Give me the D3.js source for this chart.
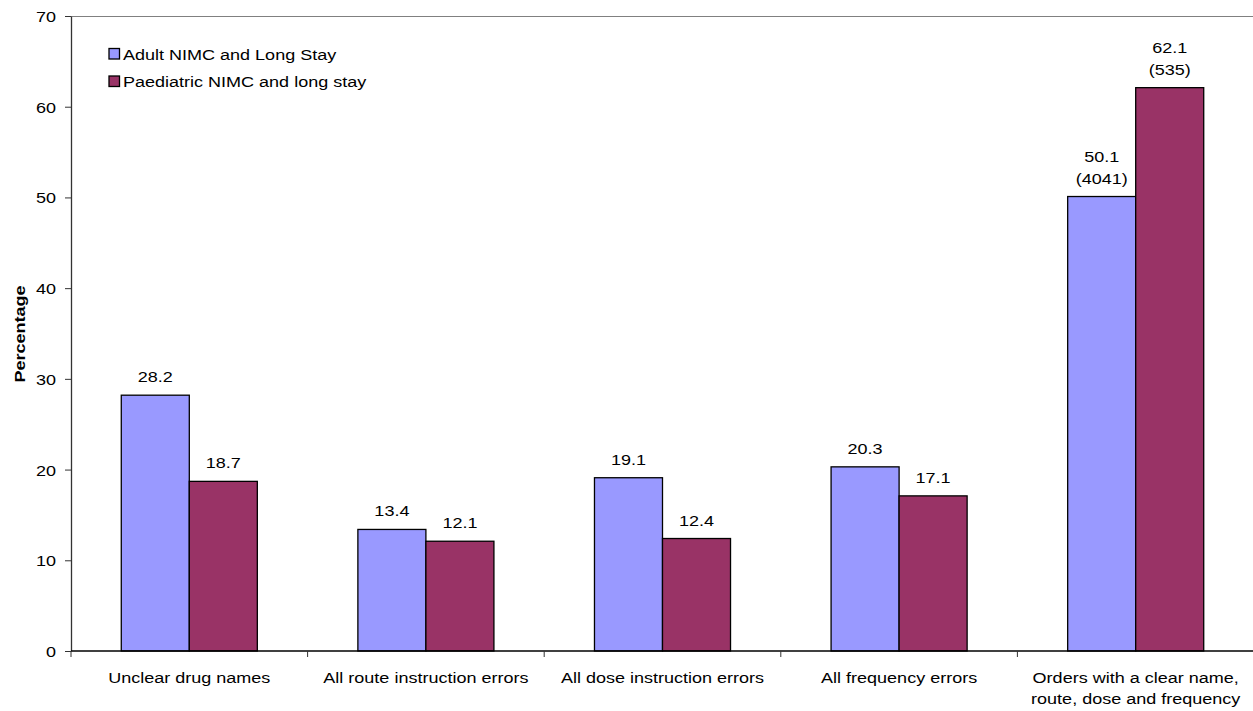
<!DOCTYPE html>
<html>
<head>
<meta charset="utf-8">
<script src="https://cdn.jsdelivr.net/npm/d3@7"></script>
<style>
  html, body { margin: 0; padding: 0; background: #fff; }
  svg { display: block; }
  text { font-family: "Liberation Sans", Arial, sans-serif; fill: #000; }
</style>
</head>
<body>
<svg id="chart" width="1253" height="711"></svg>
<script>
// ---- data ----
const categories = [
  ["Unclear drug names"],
  ["All route instruction errors"],
  ["All dose instruction errors"],
  ["All frequency errors"],
  ["Orders with a clear name,", "route, dose and frequency"]
];
const seriesNames = ["Adult NIMC and Long Stay", "Paediatric NIMC and long stay"];
const adultValues = [28.2, 13.4, 19.1, 20.3, 50.1];
const paediatricValues = [18.7, 12.1, 12.4, 17.1, 62.1];
const adultCounts = [null, null, null, null, "(4041)"];
const paediatricCounts = [null, null, null, null, "(535)"];
const yTicks = [0, 10, 20, 30, 40, 50, 60, 70];
const yTitle = "Percentage";

// ---- layout ----
const colors = ["#9999FF", "#993366"];
const FS = 15.4, SX = 1.17;
const pLeft = 71, pRight = 1254, pTop = 16, pBottom = 651;
const svg = d3.select("#chart");

const catKeys = categories.map((c, i) => i);
const x = d3.scaleBand().domain(catKeys).range([pLeft, pRight]).paddingInner(0.425).paddingOuter(0.2125);
const xs = d3.scaleBand().domain([0, 1]).range([0, x.bandwidth()]).padding(0);
const y = d3.scaleLinear().domain([0, 70]).range([pBottom, pTop]);

function stext(g, str, tx, ty, anchor, weight) {
  return g.append("text")
    .attr("transform", `translate(${tx},${ty}) scale(${SX},1)`)
    .attr("text-anchor", anchor || "start")
    .style("font-size", FS + "px")
    .style("font-weight", weight || "normal")
    .text(str);
}

// top border
svg.append("line").attr("x1", pLeft).attr("x2", 1253).attr("y1", pTop + 0.5).attr("y2", pTop + 0.5)
  .attr("stroke", "#808080").attr("stroke-width", 1);

// bars
const series = [adultValues, paediatricValues];
const counts = [adultCounts, paediatricCounts];
const barG = svg.append("g");
series.forEach((vals, si) => {
  barG.selectAll(null).data(vals).enter().append("rect")
    .attr("x", (d, i) => x(i) + xs(si))
    .attr("y", d => y(d))
    .attr("width", xs.bandwidth())
    .attr("height", d => y(0) - y(d))
    .attr("fill", colors[si])
    .attr("stroke", "#000")
    .attr("stroke-width", 1.3);
});

// value labels
const labG = svg.append("g");
series.forEach((vals, si) => {
  vals.forEach((v, i) => {
    const cx = x(i) + xs(si) + xs.bandwidth() / 2;
    const by = y(v) - 13;
    if (counts[si][i]) {
      stext(labG, v.toFixed(1), cx, by - 22, "middle");
      stext(labG, counts[si][i], cx, by, "middle");
    } else {
      stext(labG, v.toFixed(1), cx, by, "middle");
    }
  });
});

// y axis
const yAxis = svg.append("g").attr("transform", `translate(${pLeft},0)`)
  .call(d3.axisLeft(y).tickValues(yTicks).tickSize(6).tickSizeOuter(0).tickFormat(d3.format("d")));
yAxis.select(".domain").attr("stroke", "#333").attr("stroke-width", 1.3);
yAxis.selectAll(".tick line").attr("stroke", "#333");
yAxis.selectAll(".tick text").each(function () {
  const t = d3.select(this);
  t.attr("x", null).attr("dy", null)
    .attr("transform", `translate(-15,5.5) scale(${SX},1)`)
    .attr("text-anchor", "end")
    .style("font-size", FS + "px").attr("fill", "#000");
});
yAxis.attr("font-family", null).attr("font-size", null);

// x axis
const xAxisG = svg.append("g");
xAxisG.append("line").attr("x1", pLeft).attr("x2", 1253).attr("y1", pBottom).attr("y2", pBottom)
  .attr("stroke", "#000").attr("stroke-width", 1.3);
const boundaries = catKeys.map(i => x(i) - x.step() * x.paddingOuter()).concat([pRight]);
xAxisG.selectAll(null).data(boundaries).enter().append("line")
  .attr("x1", d => d).attr("x2", d => d)
  .attr("y1", pBottom).attr("y2", pBottom + 6)
  .attr("stroke", "#333");
categories.forEach((lines, i) => {
  const cx = x(i) + x.bandwidth() / 2;
  lines.forEach((ln, j) => stext(xAxisG, ln, cx, 683 + j * 21, "middle"));
});

// y title
svg.append("text")
  .attr("transform", `translate(24.5,334) rotate(-90) scale(${SX},1)`)
  .attr("text-anchor", "middle")
  .style("font-size", FS + "px").style("font-weight", "bold")
  .text(yTitle);

// legend
const leg = svg.append("g");
seriesNames.forEach((n, i) => {
  const ly = 48.5 + i * 27.5;
  leg.append("rect").attr("x", 109).attr("y", ly).attr("width", 10.5).attr("height", 10.5)
    .attr("fill", colors[i]).attr("stroke", "#000").attr("stroke-width", 1.3);
  stext(leg, n, 123, ly + 11, "start");
});
</script>
</body>
</html>
